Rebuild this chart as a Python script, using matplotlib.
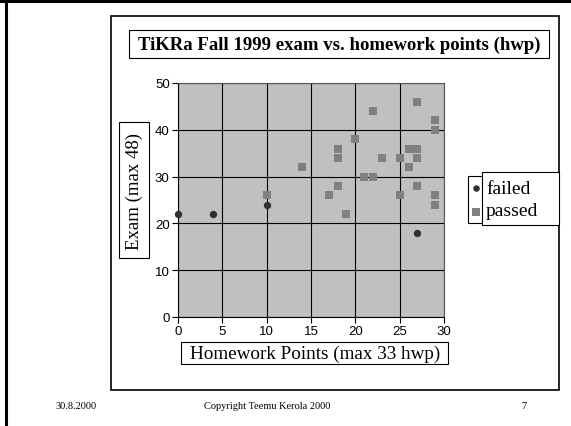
import matplotlib
matplotlib.use("Agg")
import matplotlib.pyplot as plt
from matplotlib.patches import Rectangle

# data
failed_hwp = [0, 4, 10, 27]
failed_exam = [22, 22, 24, 18]

passed_hwp = [10, 14, 27, 22, 29, 29, 20, 18, 18, 23, 25, 26,
              27, 27, 26, 21, 22, 18, 17, 27, 25, 29, 29, 19]
passed_exam = [26, 32, 46, 44, 42, 40, 38, 36, 34, 34, 34, 36,
               36, 34, 32, 30, 30, 28, 26, 28, 26, 26, 24, 22]

title = "TiKRa Fall 1999 exam vs. homework points (hwp)"
xlabel = "Homework Points (max 33 hwp)"
ylabel = "Exam (max 48)"
xticks = [0, 5, 10, 15, 20, 25, 30]
yticks = [0, 10, 20, 30, 40, 50]

W, H = 571, 427
serif = "Liberation Serif"
sans = "Liberation Sans"


def fx(px):
    return px / W


def fy(py):
    return 1 - py / H


def box(fig, x0, y0, x1, y1, lw=1.0, fc="none", z=1):
    # rectangle given in pixel coords (top-left origin)
    r = Rectangle((fx(x0), fy(y1)), fx(x1) - fx(x0), fy(y0) - fy(y1),
                  transform=fig.transFigure, fill=(fc != "none"),
                  facecolor=fc, edgecolor="black", linewidth=lw, zorder=z)
    fig.patches.append(r)


fig = plt.figure(figsize=(W / 100, H / 100), dpi=100)
fig.patch.set_facecolor("white")

# slide border (top and left) and chart frame
fig.add_artist(plt.Line2D([fx(0), fx(571)], [fy(2), fy(2)], color="black", lw=2.2,
                          transform=fig.transFigure))
fig.add_artist(plt.Line2D([fx(6), fx(6)], [fy(0), fy(427)], color="black", lw=2.2,
                          transform=fig.transFigure))
box(fig, 111, 17, 559, 391, lw=1.2)

# title box
box(fig, 129, 31, 549, 59, lw=0.8)
fig.text(fx(339), fy(45), title, ha="center", va="center",
         fontfamily=serif, fontweight="bold", fontsize=13.5)

# plot area
ax = fig.add_axes([fx(178), fy(318), fx(444) - fx(178), fy(84) - fy(318)])
ax.set_facecolor("#c0c0c0")
ax.set_xlim(0, 30)
ax.set_ylim(0, 50)
ax.set_xticks(xticks)
ax.set_yticks(yticks)
ax.grid(True, color="black", linewidth=0.8)
ax.set_axisbelow(True)
ax.tick_params(direction="out", length=4, width=0.8, labelsize=9.5, pad=2)
for lab in ax.get_xticklabels() + ax.get_yticklabels():
    lab.set_fontfamily(sans)
for s in ax.spines.values():
    s.set_linewidth(0.8)
for s in ["top", "right"]:
    ax.spines[s].set_color("#555555")

ax.scatter(passed_hwp, passed_exam, marker="s", s=30, color="#808080",
           zorder=3, clip_on=False, linewidths=0)
ax.scatter(failed_hwp, failed_exam, marker="o", s=28, color="#303030",
           zorder=4, clip_on=False, linewidths=0)

# axis label boxes
box(fig, 119, 123, 149, 259, lw=0.8)
fig.text(fx(134), fy(191), ylabel, rotation=90, ha="center", va="center",
         fontfamily=serif, fontsize=13.5)
box(fig, 181, 343, 448, 365, lw=0.8)
fig.text(fx(315), fy(354), xlabel, ha="center", va="center",
         fontfamily=serif, fontsize=13.8)

# legend
box(fig, 468, 177, 490, 224, lw=0.8)
box(fig, 482, 173, 559, 226, lw=0.8, fc="white", z=2)
lx = fig.add_axes([0, 0, 1, 1], facecolor="none")
lx.set_xlim(0, W)
lx.set_ylim(H, 0)
lx.axis("off")
lx.scatter([476], [189], marker="o", s=22, color="#303030", linewidths=0)
lx.scatter([476], [212.5], marker="s", s=30, color="#808080", linewidths=0)
fig.text(fx(486), fy(189), "failed", ha="left", va="center",
         fontfamily=serif, fontsize=14)
fig.text(fx(486), fy(212), "passed", ha="left", va="center",
         fontfamily=serif, fontsize=14)

# footer
fig.text(fx(76), fy(407), "30.8.2000", ha="center", va="center",
         fontfamily=serif, fontsize=7.5)
fig.text(fx(267), fy(407), "Copyright Teemu Kerola 2000", ha="center",
         va="center", fontfamily=serif, fontsize=7.5)
fig.text(fx(524), fy(407), "7", ha="center", va="center",
         fontfamily=serif, fontsize=7.5)

fig.savefig("out.png", dpi=100)
